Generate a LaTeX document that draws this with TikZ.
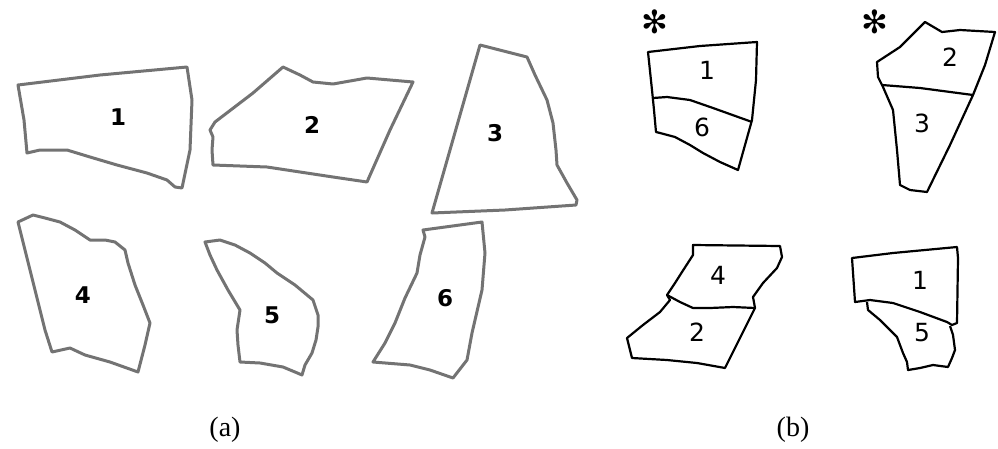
\documentclass[tikz,border=0pt]{standalone}
\usepackage{fontspec}
\setmainfont{Liberation Serif}
\newfontfamily\labfont{DejaVu Sans}
\newfontfamily\symfont{DejaVu Sans}
\begin{document}
\begin{tikzpicture}[x=1pt,y=-1pt,
  frag/.style={draw=black!55,line width=3pt,line join=round},
  fitline/.style={draw=black,line width=2.2pt,line join=round},
  lab/.style={font=\labfont\bfseries\fontsize{23}{23}\selectfont,inner sep=0pt},
  rlab/.style={font=\labfont\fontsize{25}{25}\selectfont,inner sep=0pt},
  starmark/.style={font=\symfont\fontsize{32}{32}\selectfont,inner sep=0pt},
  captext/.style={font=\fontsize{28}{28}\selectfont,inner sep=0pt}]
\useasboundingbox (0,0) rectangle (998,448);
% (a) fragments
\draw[frag] (18,85) -- (100,75) -- (187,67) -- (192,100) -- (190,150) -- (182,188) -- (175,187) -- (167,180) -- (147,173) -- (117,165) -- (90,157) -- (67,150) -- (40,150) -- (27,153) -- (24,120) -- cycle;
\node[lab] (a1) at (118,117) {1};
\draw[frag] (210,130) -- (215,122) -- (253,93) -- (283,67) -- (300,75) -- (313,82) -- (333,84) -- (367,78) -- (413,82) -- (390,130) -- (367,182) -- (333,177) -- (267,167) -- (213,165) -- (212,150) -- (213,137) -- cycle;
\node[lab] (a2) at (312,125) {2};
\draw[frag] (480,45) -- (527,57) -- (535,75) -- (547,100) -- (553,123) -- (556,150) -- (557,165) -- (567,183) -- (577,200) -- (576,205) -- (505,210) -- (432,213) -- cycle;
\node[lab] (a3) at (495,133) {3};
\draw[frag] (18,222) -- (33,215) -- (45,218) -- (60,222) -- (75,230) -- (90,240) -- (105,240) -- (115,242) -- (125,250) -- (128,263) -- (135,285) -- (143,305) -- (150,323) -- (145,345) -- (138,372) -- (110,362) -- (85,355) -- (70,348) -- (52,352) -- (45,330) -- (35,290) -- (25,250) -- cycle;
\node[lab] (a4) at (83,295) {4};
\draw[frag] (205,242) -- (220,240) -- (235,245) -- (250,253) -- (265,263) -- (277,273) -- (295,285) -- (313,300) -- (318,315) -- (318,327) -- (316,340) -- (312,353) -- (305,365) -- (302,375) -- (295,372) -- (283,367) -- (260,363) -- (240,362) -- (238,345) -- (237,330) -- (240,310) -- (228,290) -- (217,270) -- (210,255) -- cycle;
\node[lab] (a5) at (272,315) {5};
\draw[frag] (423,230) -- (482,222) -- (485,253) -- (482,290) -- (472,333) -- (467,360) -- (453,378) -- (430,370) -- (410,365) -- (373,362) -- (385,343) -- (395,323) -- (405,298) -- (417,273) -- (420,255) -- (425,237) -- cycle;
\node[lab] (a6) at (445,298) {6};
\node[captext] (capa) at (225,430) {(a)};
% (b) fitted pairs
\node[starmark] (s1) at (655,22) {✻};
\draw[fitline] (648,52) -- (700,46) -- (757,42) -- (756,80) -- (752,120) -- (745,145) -- (738,170) -- (720,162) -- (703,153) -- (690,145) -- (675,137) -- (660,133) -- (656,132) -- (654,110) -- (652,90) -- cycle;
\draw[fitline] (653,98) -- (667,97) -- (690,100) -- (713,108) -- (752,122);
\node[rlab] (b1) at (707,70) {1};
\node[rlab] (b6) at (702,127) {6};
\node[starmark] (s2) at (875,22) {✻};
\draw[fitline] (877,62) -- (900,47) -- (925,22) -- (942,32) -- (960,30) -- (995,32) -- (985,65) -- (973,95) -- (950,145) -- (927,192) -- (910,190) -- (900,185) -- (897,150) -- (893,110) -- (883,87) -- (878,77) -- cycle;
\draw[fitline] (882,85) -- (920,88) -- (973,95);
\node[rlab] (b2) at (950,57) {2};
\node[rlab] (b3) at (922,123) {3};
\draw[fitline] (693,245) -- (780,246) -- (782,257) -- (777,268) -- (763,283) -- (753,297) -- (755,308) -- (740,338) -- (725,368) -- (697,363) -- (667,360) -- (632,358) -- (630,350) -- (627,338) -- (643,325) -- (660,312) -- (670,300) -- (667,295) -- (675,283) -- (682,272) -- (693,255) -- cycle;
\draw[fitline] (667,295) -- (680,302) -- (693,308) -- (710,308) -- (733,307) -- (755,308);
\node[rlab] (b4) at (718,275) {4};
\node[rlab] (b2b) at (697,332) {2};
\draw[fitline] (852,258) -- (893,253) -- (957,247) -- (958,258) -- (957,323) -- (952,325) -- (947,322) -- (920,312) -- (893,303) -- (870,300) -- (855,302) -- cycle;
\draw[fitline] (867,302) -- (868,310) -- (880,320) -- (897,337) -- (903,353) -- (907,362) -- (908,370) -- (920,368) -- (933,365) -- (948,367) -- (952,358) -- (955,350) -- (953,335) -- (950,326);
\node[rlab] (b1b) at (920,280) {1};
\node[rlab] (b5) at (922,333) {5};
\node[captext] (capb) at (793,430) {(b)};
\end{tikzpicture}
\end{document}
